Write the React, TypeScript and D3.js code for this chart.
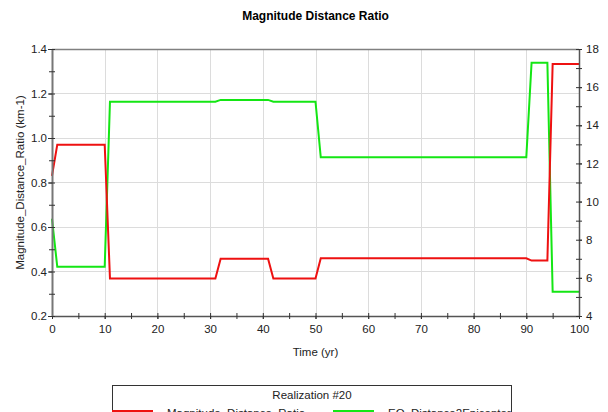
import React, { useEffect, useRef } from "react";
import * as d3 from "d3";

// vertices of the two piecewise lines (time in years)
const ratioTimes = [0, 1, 10, 11, 31, 32, 41, 42, 50, 51, 90, 91, 94, 95, 100];
const ratioValues = [0.83, 0.97, 0.97, 0.368, 0.368, 0.457, 0.457, 0.368, 0.368, 0.459, 0.459, 0.449, 0.449, 1.333, 1.333];

const distTimes = [0, 1, 10, 11, 31, 32, 41, 42, 50, 51, 90, 91, 94, 95, 100];
const distValues = [9.1, 6.58, 6.58, 15.24, 15.24, 15.33, 15.33, 15.24, 15.24, 12.32, 12.32, 17.28, 17.28, 5.27, 5.27];

const xTicks = [0, 10, 20, 30, 40, 50, 60, 70, 80, 90, 100];
const leftTicks = [0.2, 0.4, 0.6, 0.8, 1.0, 1.2, 1.4];
const rightTicks = [4, 6, 8, 10, 12, 14, 16, 18];

const seriesNames = ["Magnitude_Distance_Ratio", "EQ_Distance2Epicenter"];
const legendTitle = "Realization #20";

const App = () => {
  const svgRef = useRef(null);

  useEffect(() => {
    const svg = d3.select(svgRef.current);
    svg.selectAll("*").remove();

    const W = 608;
    const H = 412;
    const margin = { top: 49, right: 29, bottom: 96, left: 52 };
    const width = W - margin.left - margin.right;
    const height = H - margin.top - margin.bottom;
    const font = "'Liberation Sans', Arial, sans-serif";

    const x = d3.scaleLinear().domain([0, 100]).range([0, width]);
    const yL = d3.scaleLinear().domain([0.2, 1.4]).range([height, 0]);
    const yR = d3.scaleLinear().domain([4, 18]).range([height, 0]);

    svg.append("rect").attr("width", W).attr("height", H).attr("fill", "#fff");

    // title
    svg
      .append("text")
      .attr("x", margin.left + width / 2)
      .attr("y", 20)
      .attr("text-anchor", "middle")
      .attr("font-family", font)
      .attr("font-weight", "bold")
      .attr("font-size", 12)
      .text("Magnitude Distance Ratio");

    const g = svg.append("g").attr("transform", `translate(${margin.left},${margin.top})`);

    // grid
    g.selectAll(".hgrid")
      .data(leftTicks)
      .enter()
      .append("line")
      .attr("x1", 0)
      .attr("x2", width)
      .attr("y1", (d) => Math.round(yL(d)) + 0.5)
      .attr("y2", (d) => Math.round(yL(d)) + 0.5)
      .attr("stroke", "#dcdcdc");
    g.selectAll(".vgrid")
      .data(xTicks)
      .enter()
      .append("line")
      .attr("y1", 0)
      .attr("y2", height)
      .attr("x1", (d) => Math.round(x(d)) + 0.5)
      .attr("x2", (d) => Math.round(x(d)) + 0.5)
      .attr("stroke", "#dcdcdc");

    // top border
    g.append("line")
      .attr("x1", 0)
      .attr("x2", width)
      .attr("y1", 0.5)
      .attr("y2", 0.5)
      .attr("stroke", "#808080")
      .attr("stroke-width", 1.5);

    // lines
    const lineL = d3
      .line<number>()
      .x((d, i) => x(ratioTimes[i]))
      .y((d) => yL(d));
    const lineR = d3
      .line<number>()
      .x((d, i) => x(distTimes[i]))
      .y((d) => yR(d));

    g.append("path")
      .attr("d", lineR(distValues))
      .attr("fill", "none")
      .attr("stroke", "#14e614")
      .attr("stroke-width", 2);
    g.append("path")
      .attr("d", lineL(ratioValues))
      .attr("fill", "none")
      .attr("stroke", "#ee1111")
      .attr("stroke-width", 2);

    const tickStyle = (sel) =>
      sel
        .call((a) => a.select(".domain").attr("stroke", "#555").attr("stroke-width", 1.5))
        .call((a) => a.selectAll("line").attr("stroke", "#333"))
        .call((a) =>
          a.selectAll("text").attr("font-family", font).attr("font-size", 11.5).attr("fill", "#222")
        );

    // bottom axis (major + minor)
    g.append("g")
      .attr("transform", `translate(0,${height})`)
      .call(d3.axisBottom(x).tickValues(d3.range(0, 101, 5)).tickSize(3).tickSizeOuter(0).tickFormat(() => ""))
      .call((a) => a.selectAll(".tick line").attr("y1", -3))
      .call(tickStyle);
    g.append("g")
      .attr("transform", `translate(0,${height})`)
      .call(d3.axisBottom(x).tickValues(xTicks).tickSize(3).tickPadding(6).tickSizeOuter(0).tickFormat(d3.format("d")))
      .call((a) => a.select(".domain").remove())
      .call(tickStyle);

    // left axis
    g.append("g")
      .call(d3.axisLeft(yL).tickValues(d3.range(0.2, 1.41, 0.1)).tickSize(3).tickSizeOuter(0).tickFormat(() => ""))
      .call((a) => a.selectAll(".tick line").attr("x1", 3))
      .call(tickStyle)
      .call((a) => a.select(".domain").attr("stroke", "#777").attr("stroke-width", 2));
    g.append("g")
      .call(d3.axisLeft(yL).tickValues(leftTicks).tickSize(4).tickPadding(1).tickSizeOuter(0).tickFormat(d3.format(".1f")))
      .call((a) => a.select(".domain").remove())
      .call(tickStyle);

    // right axis
    g.append("g")
      .attr("transform", `translate(${width},0)`)
      .call(d3.axisRight(yR).tickValues(d3.range(4, 18.1, 1)).tickSize(3).tickSizeOuter(0).tickFormat(() => ""))
      .call((a) => a.selectAll(".tick line").attr("x1", -3))
      .call(tickStyle);
    g.append("g")
      .attr("transform", `translate(${width},0)`)
      .call(d3.axisRight(yR).tickValues(rightTicks).tickSize(3).tickPadding(4).tickSizeOuter(0).tickFormat(d3.format("d")))
      .call((a) => a.select(".domain").remove())
      .call(tickStyle);

    // axis titles
    svg
      .append("text")
      .attr("x", margin.left + width / 2)
      .attr("y", 356)
      .attr("text-anchor", "middle")
      .attr("font-family", font)
      .attr("font-size", 11.5)
      .attr("fill", "#222")
      .text("Time (yr)");
    svg
      .append("text")
      .attr("transform", `translate(24,${margin.top + height / 2}) rotate(-90)`)
      .attr("text-anchor", "middle")
      .attr("font-family", font)
      .attr("font-size", 11.5)
      .attr("fill", "#222")
      .text("Magnitude_Distance_Ratio (km-1)");

    // legend
    const lg = svg.append("g");
    lg.append("rect")
      .attr("x", 112.5)
      .attr("y", 385.5)
      .attr("width", 399)
      .attr("height", 60)
      .attr("fill", "#fff")
      .attr("stroke", "#333");
    lg.append("text")
      .attr("x", 312)
      .attr("y", 399)
      .attr("text-anchor", "middle")
      .attr("font-family", font)
      .attr("font-size", 11.5)
      .attr("fill", "#222")
      .text(legendTitle);
    const legendColors = ["#ee1111", "#14e614"];
    const legendX = [112, 333];
    seriesNames.forEach((name, i) => {
      lg.append("line")
        .attr("x1", legendX[i])
        .attr("x2", legendX[i] + 41)
        .attr("y1", 411)
        .attr("y2", 411)
        .attr("stroke", legendColors[i])
        .attr("stroke-width", 2);
      lg.append("text")
        .attr("x", legendX[i] + 55)
        .attr("y", 417)
        .attr("font-family", font)
        .attr("font-size", 11.5)
        .attr("fill", "#222")
        .text(name);
    });
  }, []);

  return (
    <svg
      ref={svgRef}
      width={608}
      height={412}
      style={{ position: "absolute", left: 0, top: 0, display: "block" }}
    />
  );
};

export default App;
